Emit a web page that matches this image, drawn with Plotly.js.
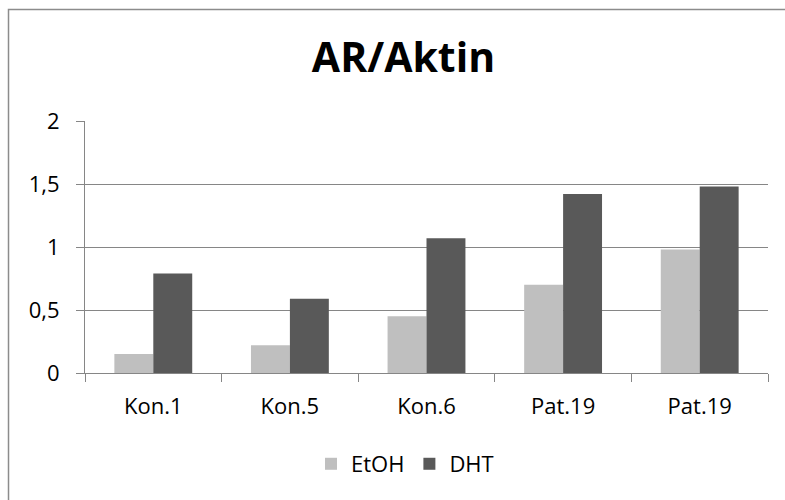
<!DOCTYPE html>
<html>
<head>
<meta charset="utf-8">
<script src="https://cdn.plot.ly/plotly-3.0.1.min.js"></script>
<style>html,body{margin:0;padding:0;background:#fff;}#chart{width:785px;height:500px;}</style>
</head>
<body>
<div id="chart"></div>
<script>
const categories = ["Kon.1", "Kon.5", "Kon.6", "Pat.19", "Pat.19"];
const etohValues = [0.15, 0.22, 0.45, 0.70, 0.98];
const dhtValues = [0.79, 0.59, 1.07, 1.42, 1.48];
const yTickVals = [0, 0.5, 1, 1.5, 2];

const positions = categories.map((c, i) => i);
const font = "Open Sans, sans-serif";

const traces = [
  {type: "bar", name: "EtOH", x: positions, y: etohValues, marker: {color: "#BFBFBF"}, hoverinfo: "y"},
  {type: "bar", name: "DHT", x: positions, y: dhtValues, marker: {color: "#595959"}, hoverinfo: "y"}
];

const layout = {
  width: 785, height: 500,
  margin: {l: 85, r: 17, t: 121, b: 127},
  paper_bgcolor: "#fff", plot_bgcolor: "#fff",
  separators: ", ",
  font: {family: font, color: "#000", size: 22},
  title: {text: "<b>AR/Aktin</b>", font: {family: font, size: 41, color: "#000"},
          x: 0.514, xref: "container", xanchor: "center", y: 0.884, yref: "container", yanchor: "middle"},
  barmode: "group", bargap: 0.43, bargroupgap: 0,
  xaxis: {
    range: [-0.5, 4.5], tickvals: positions, ticktext: categories,
    ticks: "", showgrid: false, zeroline: false,
    showline: true, linecolor: "#868686", linewidth: 1,
    tickfont: {family: font, size: 22, color: "#000"},
    ticklabelstandoff: 14,
    minor: {ticks: "outside", ticklen: 8, tickcolor: "#868686", tickwidth: 1, tick0: -0.5, dtick: 1, showgrid: false},
    fixedrange: true
  },
  yaxis: {
    range: [0, 2], tickvals: yTickVals, tickformat: ".1~f",
    ticks: "outside", ticklen: 8, tickcolor: "#868686", tickwidth: 1,
    showgrid: true, gridcolor: "#868686", gridwidth: 1,
    zeroline: false, showline: true, linecolor: "#868686", linewidth: 1,
    tickfont: {family: font, size: 22, color: "#000"},
    ticklabelstandoff: 12,
    fixedrange: true
  },
  showlegend: true,
  legend: {orientation: "h", x: 0.4685, xanchor: "center", y: -0.361, yanchor: "middle",
           font: {family: font, size: 22, color: "#000"}, itemwidth: 30, traceorder: "normal"},
  shapes: [
    {type: "rect", xref: "paper", yref: "paper", x0: -0.112, x1: 1.04, y0: -0.54, y1: 1.4425,
     line: {color: "#8c8c8c", width: 1.5}, fillcolor: "rgba(0,0,0,0)", layer: "below"}
  ]
};

Plotly.newPlot("chart", traces, layout, {displayModeBar: false, staticPlot: true});
</script>
</body>
</html>
